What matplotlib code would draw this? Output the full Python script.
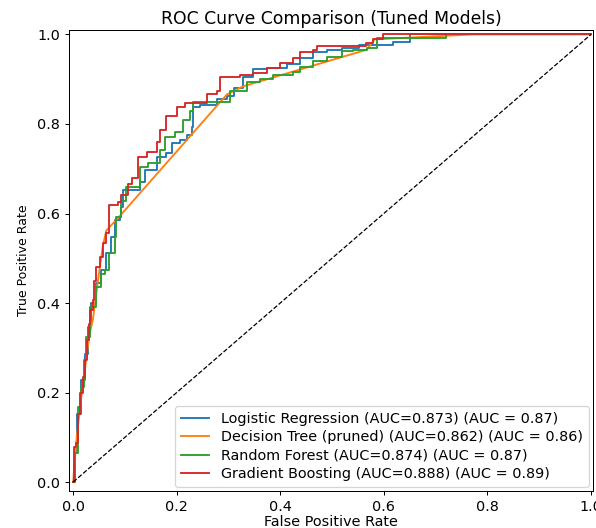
import matplotlib
matplotlib.use('Agg')
import matplotlib.pyplot as plt

# ROC points (fpr, tpr)
lr_fpr = [0, 0.003, 0.008, 0.015, 0.022, 0.028, 0.035, 0.044, 0.054, 0.064, 0.073, 0.080,
          0.090, 0.093, 0.097, 0.129, 0.139, 0.162, 0.180, 0.190, 0.206, 0.220, 0.230, 0.232,
          0.245, 0.278, 0.297, 0.310, 0.328, 0.347, 0.374, 0.413, 0.438, 0.463, 0.490, 0.520,
          0.553, 0.580, 0.617, 0.650, 1.0]
lr_tpr = [0, 0.064, 0.153, 0.227, 0.287, 0.346, 0.399, 0.444, 0.473, 0.511, 0.547, 0.585,
          0.592, 0.614, 0.653, 0.670, 0.698, 0.727, 0.735, 0.758, 0.765, 0.776, 0.794, 0.839,
          0.843, 0.855, 0.862, 0.880, 0.904, 0.922, 0.926, 0.933, 0.948, 0.960, 0.966, 0.970,
          0.977, 0.977, 0.984, 1.0, 1.0]

dt_fpr = [0, 0.006, 0.015, 0.025, 0.032, 0.038, 0.048, 0.057, 0.064, 0.086, 0.297, 0.328,
          0.567, 0.582, 0.770, 1.0]
dt_tpr = [0, 0.090, 0.183, 0.272, 0.332, 0.362, 0.450, 0.525, 0.562, 0.589, 0.866, 0.884,
          0.966, 0.989, 1.0, 1.0]

rf_fpr = [0, 0.003, 0.009, 0.015, 0.021, 0.025, 0.032, 0.044, 0.054, 0.061, 0.070, 0.080,
          0.083, 0.093, 0.102, 0.129, 0.145, 0.168, 0.177, 0.197, 0.212, 0.226, 0.232, 0.303,
          0.336, 0.360, 0.386, 0.425, 0.438, 0.463, 0.490, 0.520, 0.540, 0.567, 0.586, 0.720, 1.0]
rf_tpr = [0, 0.064, 0.167, 0.212, 0.272, 0.324, 0.391, 0.436, 0.465, 0.473, 0.511, 0.547,
          0.592, 0.629, 0.659, 0.705, 0.713, 0.743, 0.770, 0.783, 0.810, 0.828, 0.850, 0.873,
          0.893, 0.900, 0.910, 0.917, 0.928, 0.940, 0.950, 0.962, 0.966, 0.970, 0.993, 1.0, 1.0]

gb_fpr = [0, 0.002, 0.006, 0.009, 0.014, 0.019, 0.023, 0.027, 0.030, 0.032, 0.038, 0.041,
          0.044, 0.051, 0.057, 0.064, 0.070, 0.086, 0.093, 0.105, 0.114, 0.125, 0.142, 0.162,
          0.168, 0.180, 0.200, 0.216, 0.258, 0.278, 0.284, 0.322, 0.347, 0.374, 0.400, 0.425,
          0.438, 0.463, 0.470, 0.565, 0.580, 0.598, 1.0]
gb_tpr = [0, 0.078, 0.087, 0.153, 0.198, 0.234, 0.272, 0.317, 0.354, 0.384, 0.406, 0.450,
          0.480, 0.502, 0.533, 0.556, 0.618, 0.625, 0.641, 0.667, 0.680, 0.727, 0.738, 0.760,
          0.787, 0.817, 0.837, 0.848, 0.866, 0.873, 0.904, 0.910, 0.915, 0.926, 0.937, 0.948,
          0.960, 0.966, 0.975, 0.982, 0.990, 1.0, 1.0]

labels = ['Logistic Regression (AUC=0.873) (AUC = 0.87)',
          'Decision Tree (pruned) (AUC=0.862) (AUC = 0.86)',
          'Random Forest (AUC=0.874) (AUC = 0.87)',
          'Gradient Boosting (AUC=0.888) (AUC = 0.89)']

plt.rcParams['font.size'] = 11.5

fig = plt.figure(figsize=(596 / 90, 528 / 90), dpi=90)
ax = fig.add_axes([69 / 596, 1 - 491 / 528, 524 / 596, 461 / 528])

ax.plot(lr_fpr, lr_tpr, drawstyle='steps-post', label=labels[0])
ax.plot(dt_fpr, dt_tpr, label=labels[1])
ax.plot(rf_fpr, rf_tpr, drawstyle='steps-post', label=labels[2])
ax.plot(gb_fpr, gb_tpr, drawstyle='steps-post', label=labels[3])
ax.plot([0, 1], [0, 1], 'k--', lw=1)

ax.set_xlim(-0.008, 1.004)
ax.set_ylim(-0.02, 1.01)
ax.set_xlabel('False Positive Rate', labelpad=1)
ax.set_ylabel('True Positive Rate', fontsize=10, labelpad=6)
ax.set_title('ROC Curve Comparison (Tuned Models)', fontsize=13.8, pad=5)
ax.legend(loc='lower right', labelspacing=0.3, borderaxespad=0.3)

plt.savefig('out.png', dpi=90)
